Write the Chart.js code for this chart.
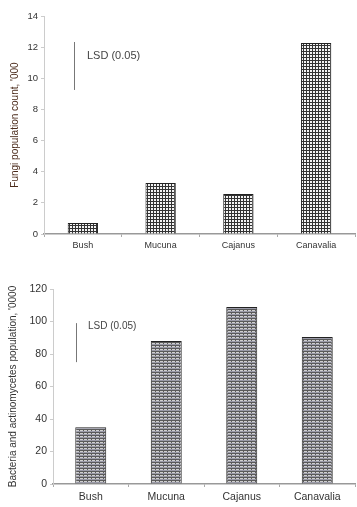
<!DOCTYPE html>
<html><head><meta charset="utf-8">
<script src="https://cdn.jsdelivr.net/npm/chart.js@4/dist/chart.umd.min.js"></script>
<style>
html,body{margin:0;padding:0;background:#fff;}
#w1{position:absolute;left:0;top:0;width:357px;height:255px;}
#w2{position:absolute;left:0;top:255px;width:357px;height:252px;}
</style></head><body>
<div id="w1"><canvas id="c1"></canvas></div>
<div id="w2"><canvas id="c2"></canvas></div>
<script>
const categories = ["Bush", "Mucuna", "Cajanus", "Canavalia"];
const fungiValues = [0.7, 3.27, 2.57, 12.27];
const bacteriaValues = [35, 88, 109, 90.5];
const fungiTicks = [0, 2, 4, 6, 8, 10, 12, 14];
const bacteriaTicks = [0, 20, 40, 60, 80, 100, 120];
const fungiLSD = [9.25, 12.33];
const bacteriaLSD = [75, 99];
const lsdLabel = "LSD (0.05)";
const fungiTitle = "Fungi population count, '000";
const bacteriaTitle = "Bacteria and actinomycetes population, '0000";

const FONT = "'Liberation Sans', Arial, sans-serif";

function gridPattern(){
  const c = document.createElement('canvas'); c.width = 3; c.height = 3;
  const g = c.getContext('2d');
  g.fillStyle = '#f4f4f4'; g.fillRect(0,0,3,3);
  g.fillStyle = '#333'; g.fillRect(0,0,3,1); g.fillRect(0,0,1,3);
  return g.createPattern(c,'repeat');
}
function stripePattern(){
  const c = document.createElement('canvas'); c.width = 4; c.height = 3;
  const g = c.getContext('2d');
  g.fillStyle = '#5a5a5a'; g.fillRect(0,0,4,3);
  g.fillStyle = '#d0d0d0'; g.fillRect(0,1,3,1);
  g.fillStyle = '#9a9aa8'; g.fillRect(0,2,4,1);
  return g.createPattern(c,'repeat');
}

function lsdPlugin(range, dx, labelVal, fontSize, textDx){
  return {
    id: 'lsd',
    afterDatasetsDraw(chart){
      const ctx = chart.ctx, y = chart.scales.y, a = chart.chartArea;
      const x = a.left + dx;
      ctx.save();
      ctx.strokeStyle = '#777'; ctx.lineWidth = 1;
      ctx.beginPath();
      ctx.moveTo(x + 0.5, y.getPixelForValue(range[0]));
      ctx.lineTo(x + 0.5, y.getPixelForValue(range[1]));
      ctx.stroke();
      ctx.fillStyle = '#444';
      ctx.font = fontSize + 'px ' + FONT;
      ctx.textBaseline = 'middle';
      ctx.fillText(lsdLabel, x + textDx, y.getPixelForValue(labelVal));
      ctx.restore();
    }
  };
}

function makeChart(id, values, ticks, title, titleColor, opts){
  const maxV = ticks[ticks.length-1];
  return new Chart(document.getElementById(id), {
    type: 'bar',
    data: { labels: categories, datasets: [{
      data: values,
      backgroundColor: opts.pattern,
      borderColor: '#222', borderWidth: 1,
      barPercentage: opts.barPct, categoryPercentage: 1
    }]},
    options: {
      responsive: true, maintainAspectRatio: false, animation: false,
      layout: { padding: { top: opts.padTop, right: 2, left: 0, bottom: 0 } },
      plugins: { legend: { display: false }, tooltip: { enabled: false } },
      scales: {
        x: {
          grid: { display: true, drawOnChartArea: false, tickLength: 3, color: '#aaa', offset: true },
          border: { color: '#999', width: 1.5 },
          ticks: { color: '#333', font: { family: FONT, size: opts.xFont }, padding: opts.xPad },
          afterFit(s){ s.height = opts.xHeight; }
        },
        y: {
          min: 0, max: maxV,
          afterBuildTicks(s){ s.ticks = ticks.map(v => ({ value: v })); },
          grid: { display: true, drawOnChartArea: false, tickLength: 3, color: '#ccc' },
          border: { color: '#ccc' },
          ticks: { color: '#333', font: { family: FONT, size: opts.yFont }, padding: 3 },
          title: { display: true, text: title, color: titleColor, font: { family: FONT, size: opts.titleFont }, padding: { top: opts.titlePad, bottom: 0 } },
          afterFit(s){ s.width = opts.yWidth; }
        }
      }
    },
    plugins: [opts.lsd]
  });
}

makeChart('c1', fungiValues, fungiTicks, fungiTitle, '#4a2a1a', {
  pattern: gridPattern(), barPct: 0.39, padTop: 16, xHeight: 21, yWidth: 44,
  xFont: 9, yFont: 9.5, titleFont: 10, xPad: 3, titlePad: 9,
  lsd: lsdPlugin(fungiLSD, 30, 11.43, 11, 13)
});
makeChart('c2', bacteriaValues, bacteriaTicks, bacteriaTitle, '#333', {
  pattern: stripePattern(), barPct: 0.41, padTop: 34, xHeight: 23, yWidth: 53,
  xFont: 10.5, yFont: 10.5, titleFont: 10, xPad: 4, titlePad: 7,
  lsd: lsdPlugin(bacteriaLSD, 23, 97.2, 10, 12)
});
</script>
</body></html>
